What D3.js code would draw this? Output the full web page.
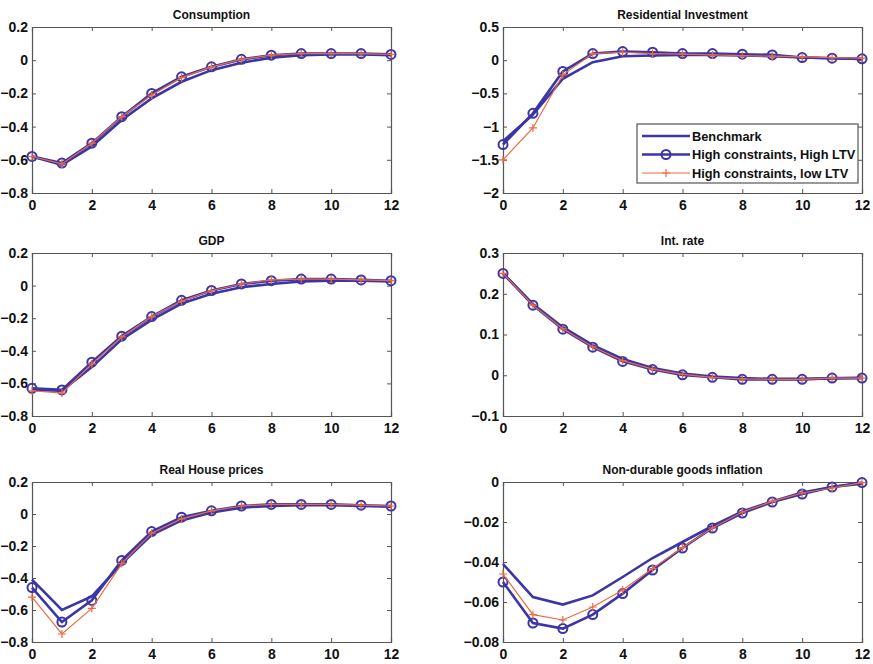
<!DOCTYPE html>
<html>
<head>
<meta charset="utf-8">
<script src="https://cdn.jsdelivr.net/npm/d3@7"></script>
<style>
  body { margin: 0; background: #fff; }
  svg { font-family: "Liberation Sans", Arial, sans-serif; }
</style>
</head>
<body>
<svg id="chart" width="873" height="664"></svg>
<script>
const horizons = [0, 1, 2, 3, 4, 5, 6, 7, 8, 9, 10, 11, 12]
const xTicks = [0, 2, 4, 6, 8, 10, 12]
const seriesNames = ["Benchmark", "High constraints, High LTV", "High constraints, low LTV"]

// values
const consBench = [-0.58, -0.63, -0.52, -0.36, -0.23, -0.13, -0.06, -0.015, 0.015, 0.03, 0.035, 0.035, 0.03]
const consHigh  = [-0.58, -0.62, -0.50, -0.34, -0.20, -0.10, -0.04, 0.005, 0.03, 0.04, 0.04, 0.04, 0.035]
const consLow   = [-0.58, -0.625, -0.50, -0.34, -0.21, -0.105, -0.04, 0.005, 0.03, 0.04, 0.04, 0.04, 0.035]

const resBench = [-1.22, -0.82, -0.28, -0.03, 0.06, 0.07, 0.08, 0.08, 0.07, 0.06, 0.04, 0.03, 0.02]
const resHigh  = [-1.27, -0.80, -0.17, 0.10, 0.13, 0.12, 0.10, 0.10, 0.09, 0.08, 0.04, 0.03, 0.02]
const resLow   = [-1.50, -1.02, -0.22, 0.10, 0.12, 0.10, 0.09, 0.08, 0.07, 0.06, 0.05, 0.04, 0.03]

const gdpBench = [-0.64, -0.645, -0.50, -0.33, -0.21, -0.11, -0.05, -0.01, 0.01, 0.025, 0.03, 0.03, 0.025]
const gdpHigh  = [-0.63, -0.64, -0.47, -0.31, -0.19, -0.09, -0.03, 0.01, 0.03, 0.04, 0.04, 0.035, 0.03]
const gdpLow   = [-0.645, -0.66, -0.48, -0.315, -0.19, -0.095, -0.03, 0.01, 0.035, 0.04, 0.04, 0.035, 0.03]

const rateBench = [0.25, 0.175, 0.118, 0.074, 0.04, 0.018, 0.004, -0.003, -0.007, -0.009, -0.009, -0.008, -0.006]
const rateHigh  = [0.25, 0.172, 0.113, 0.069, 0.034, 0.014, 0.001, -0.005, -0.01, -0.01, -0.01, -0.007, -0.007]
const rateLow   = [0.25, 0.172, 0.114, 0.070, 0.036, 0.015, 0.002, -0.005, -0.009, -0.01, -0.01, -0.007, -0.007]

const houseBench = [-0.41, -0.60, -0.515, -0.31, -0.13, -0.04, 0.01, 0.04, 0.05, 0.055, 0.055, 0.05, 0.045]
const houseHigh  = [-0.46, -0.675, -0.54, -0.29, -0.11, -0.02, 0.02, 0.05, 0.06, 0.06, 0.06, 0.055, 0.05]
const houseLow   = [-0.52, -0.75, -0.59, -0.31, -0.12, -0.03, 0.02, 0.05, 0.06, 0.06, 0.06, 0.055, 0.05]

const inflBench = [-0.041, -0.0575, -0.0613, -0.0567, -0.0475, -0.038, -0.030, -0.022, -0.0147, -0.0097, -0.0053, -0.0025, -0.0008]
const inflHigh  = [-0.050, -0.0705, -0.0733, -0.0663, -0.0558, -0.044, -0.033, -0.023, -0.0155, -0.010, -0.006, -0.0025, -0.0003]
const inflLow   = [-0.046, -0.0663, -0.069, -0.0625, -0.054, -0.0433, -0.0328, -0.023, -0.015, -0.0097, -0.0055, -0.003, -0.0003]

const consTicks = [-0.8, -0.6, -0.4, -0.2, 0, 0.2]
const resTicks = [-2, -1.5, -1, -0.5, 0, 0.5]
const rateTicks = [-0.1, 0, 0.1, 0.2, 0.3]
const inflTicks = [-0.08, -0.06, -0.04, -0.02, 0]

const panels = [
  { title: "Consumption", col: 0, row: 0, domain: [-0.8, 0.2], ticks: consTicks, data: [consBench, consHigh, consLow] },
  { title: "Residential Investment", col: 1, row: 0, domain: [-2, 0.5], ticks: resTicks, data: [resBench, resHigh, resLow], legend: true },
  { title: "GDP", col: 0, row: 1, domain: [-0.8, 0.2], ticks: consTicks, data: [gdpBench, gdpHigh, gdpLow] },
  { title: "Int. rate", col: 1, row: 1, domain: [-0.1, 0.3], ticks: rateTicks, data: [rateBench, rateHigh, rateLow] },
  { title: "Real House prices", col: 0, row: 2, domain: [-0.8, 0.2], ticks: consTicks, data: [houseBench, houseHigh, houseLow] },
  { title: "Non-durable goods inflation", col: 1, row: 2, domain: [-0.08, 0], ticks: inflTicks, data: [inflBench, inflHigh, inflLow] }
]

const colLeft = [32, 503]
const rowTop = [27, 253, 482]
const rowBottom = [193, 416, 642]
const panelWidth = 359

const blue = "#3b35a6"
const red = "#ec6a42"
const frame = "#555"

const svg = d3.select("#chart")

panels.forEach(p => {
  const left = colLeft[p.col]
  const top = rowTop[p.row]
  const height = rowBottom[p.row] - top

  const x = d3.scaleLinear().domain([0, 12]).range([0, panelWidth])
  const y = d3.scaleLinear().domain(p.domain).range([height, 0])

  const g = svg.append("g").attr("transform", "translate(" + left + "," + top + ")")

  // frame with inward ticks on all four sides
  g.append("g").attr("transform", "translate(0," + height + ")")
    .call(d3.axisBottom(x).tickValues(xTicks).tickSize(-4).tickPadding(7).tickFormat(d3.format("d")))
  g.append("g")
    .call(d3.axisTop(x).tickValues(xTicks).tickSize(-4).tickFormat(""))
  g.append("g")
    .call(d3.axisLeft(y).tickValues(p.ticks).tickSize(-4).tickPadding(4).tickFormat(d3.format("")))
  g.append("g").attr("transform", "translate(" + panelWidth + ",0)")
    .call(d3.axisRight(y).tickValues(p.ticks).tickSize(-4).tickFormat(""))
  g.selectAll(".domain").attr("stroke", frame).attr("stroke-width", 1.2)
  g.selectAll(".tick line").attr("stroke", frame)
  g.selectAll(".tick text")
    .style("font-family", "'Liberation Sans', Arial, sans-serif")
    .style("font-size", "14px")
    .style("font-weight", "bold")
    .attr("fill", "#111")

  g.append("text")
    .attr("x", panelWidth / 2)
    .attr("y", -8)
    .attr("text-anchor", "middle")
    .style("font-size", "12px")
    .style("font-weight", "bold")
    .attr("fill", "#111")
    .text(p.title)

  const line = d3.line().x((d, i) => x(horizons[i])).y(d => y(d))

  // benchmark
  g.append("path").datum(p.data[0]).attr("d", line)
    .attr("fill", "none").attr("stroke", blue).attr("stroke-width", 2.6)
  // high constraints, high LTV
  g.append("path").datum(p.data[1]).attr("d", line)
    .attr("fill", "none").attr("stroke", blue).attr("stroke-width", 2.6)
  g.selectAll("circle.m").data(p.data[1]).join("circle")
    .attr("class", "m")
    .attr("cx", (d, i) => x(horizons[i])).attr("cy", d => y(d)).attr("r", 4.5)
    .attr("fill", "none").attr("stroke", blue).attr("stroke-width", 2)
  // high constraints, low LTV
  g.append("path").datum(p.data[2]).attr("d", line)
    .attr("fill", "none").attr("stroke", red).attr("stroke-width", 1.2)
  g.selectAll("path.plus").data(p.data[2]).join("path")
    .attr("class", "plus")
    .attr("d", (d, i) => {
      const cx = x(horizons[i]), cy = y(d)
      return "M" + (cx - 4) + "," + cy + "H" + (cx + 4) + "M" + cx + "," + (cy - 4) + "V" + (cy + 4)
    })
    .attr("stroke", red).attr("stroke-width", 1.2)

  if (p.legend) {
    const lg = g.append("g").attr("transform", "translate(" + (637 - left) + "," + (124 - top) + ")")
    lg.append("rect").attr("width", 221).attr("height", 59)
      .attr("fill", "#fff").attr("stroke", frame).attr("stroke-width", 1.2)
    seriesNames.forEach((name, i) => {
      const yy = 12 + i * 18.5
      lg.append("line").attr("x1", 5).attr("x2", 53).attr("y1", yy).attr("y2", yy)
        .attr("stroke", i === 2 ? red : blue).attr("stroke-width", i === 2 ? 1.2 : 2.6)
      if (i === 1) {
        lg.append("circle").attr("cx", 29).attr("cy", yy).attr("r", 4.5)
          .attr("fill", "none").attr("stroke", blue).attr("stroke-width", 2)
      }
      if (i === 2) {
        lg.append("path").attr("d", "M25," + yy + "H33M29," + (yy - 4) + "V" + (yy + 4))
          .attr("stroke", red).attr("stroke-width", 1.2)
      }
      lg.append("text").attr("x", 55).attr("y", yy + 4.5)
        .style("font-size", "12.8px").style("font-weight", "bold").attr("fill", "#111")
        .text(name)
    })
  }
})
</script>
</body>
</html>
